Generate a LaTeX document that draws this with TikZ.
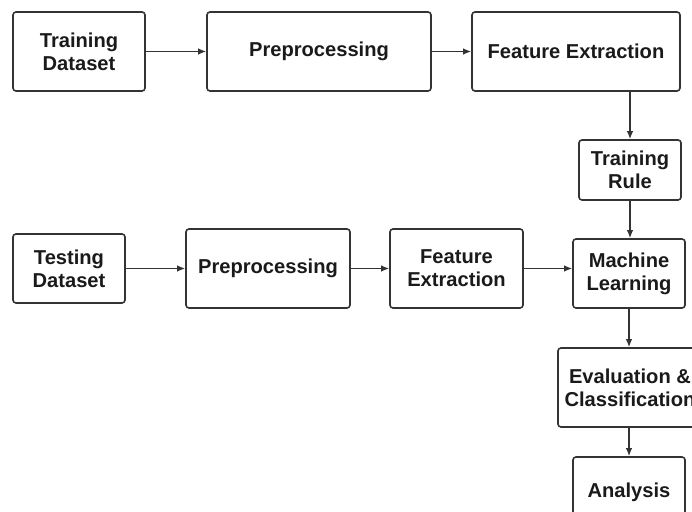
\documentclass[tikz,border=0pt]{standalone}
\usepackage{fontspec}
\setmainfont{Liberation Sans}
\usetikzlibrary{arrows.meta}
\definecolor{ln}{HTML}{333333}
\definecolor{tx}{HTML}{1A1A1A}
\begin{document}
\begin{tikzpicture}[x=1bp,y=-1bp,
  box/.style={draw=ln,line width=1.6bp,rounded corners=3bp,fill=white,align=center,
    text=tx,font=\fontsize{20.2}{23}\selectfont\bfseries,inner sep=0pt},
  arr/.style={draw=ln,line width=1.4bp,-{Latex[length=8bp,width=6.5bp]}}]
\useasboundingbox (0,0) rectangle (692,512);
\clip (0,0) rectangle (692,512);
\fill[white] (0,0) rectangle (692,512);
\node[box,minimum width=132bp,minimum height=79bp] (td) at (79,51.5) {Training\\Dataset};
\node[box,minimum width=224bp,minimum height=79bp] (pp1) at (319,51.5) {Preprocessing};
\node[box,minimum width=208bp,minimum height=79bp] (fe1) at (576,51.5) {Feature Extraction};
\node[box,minimum width=102bp,minimum height=60bp] (tr) at (630,170) {Training\\Rule};
\node[box,minimum width=112bp,minimum height=69bp] (tsd) at (69,268.5) {Testing\\Dataset};
\node[box,minimum width=164bp,minimum height=79bp] (pp2) at (268,268.5) {Preprocessing};
\node[box,minimum width=133bp,minimum height=79bp] (fe2) at (456.5,268.5) {Feature\\Extraction};
\node[box,minimum width=112bp,minimum height=69bp] (ml) at (629,273.5) {Machine\\Learning};
\node[box,minimum width=144bp,minimum height=79bp] (ev) at (630,387.5) {Evaluation \&\\Classification};
\node[box,minimum width=112bp,minimum height=70bp] (an) at (629,492) {Analysis};
\draw[arr] (td.east) -- (pp1.west);
\draw[arr] (pp1.east) -- (fe1.west);
\draw[arr] (fe1.south -| tr.north) -- (tr.north);
\draw[arr] (tr.south) -- (tr.south |- ml.north);
\draw[arr] (tsd.east) -- (pp2.west);
\draw[arr] (pp2.east) -- (fe2.west);
\draw[arr] (fe2.east) -- (fe2.east -| ml.west);
\draw[arr] (ml.south) -- (ml.south |- ev.north);
\draw[arr] (ev.south -| an.north) -- (an.north);
\end{tikzpicture}
\end{document}
